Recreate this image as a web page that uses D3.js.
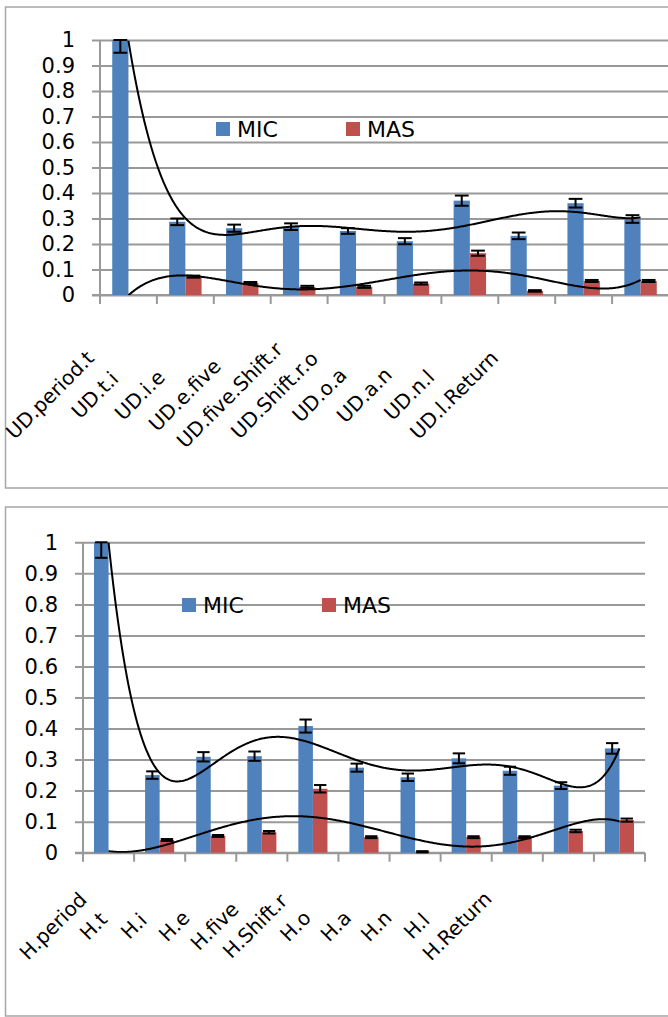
<!DOCTYPE html>
<html>
<head>
<meta charset="utf-8">
<script src="https://cdn.jsdelivr.net/npm/d3@7"></script>
<style>
  body { margin: 0; background: #fff; }
  svg { display: block; }
  text { font-family: "DejaVu Sans", sans-serif; fill: #000; }
</style>
</head>
<body>
<svg id="chart" width="668" height="1017"></svg>
<script>
// ---- data ----
const seriesNames = ["MIC", "MAS"];
const seriesColors = ["#4F81BD", "#C0504D"];
const yTickValues = [0, 0.1, 0.2, 0.3, 0.4, 0.5, 0.6, 0.7, 0.8, 0.9, 1];
const yTickLabels = ["0", "0.1", "0.2", "0.3", "0.4", "0.5", "0.6", "0.7", "0.8", "0.9", "1"];

const udCategories = ["UD.period.t", "UD.t.i", "UD.i.e", "UD.e.five", "UD.five.Shift.r",
  "UD.Shift.r.o", "UD.o.a", "UD.a.n", "UD.n.l", "UD.l.Return"];
const udMic    = [1.0, 0.287, 0.262, 0.268, 0.251, 0.211, 0.37, 0.232, 0.36, 0.298];
const udMicErr = [0.05, 0.013, 0.014, 0.013, 0.011, 0.012, 0.02, 0.013, 0.017, 0.015];
const udMas    = [0, 0.072, 0.047, 0.032, 0.032, 0.045, 0.164, 0.016, 0.055, 0.055];
const udMasErr = [0, 0.004, 0.004, 0.004, 0.004, 0.004, 0.01, 0.003, 0.004, 0.004];

const hCategories = ["H.period", "H.t", "H.i", "H.e", "H.five", "H.Shift.r",
  "H.o", "H.a", "H.n", "H.l", "H.Return"];
const hMic    = [1.0, 0.25, 0.309, 0.311, 0.408, 0.274, 0.243, 0.304, 0.264, 0.216, 0.336];
const hMicErr = [0.05, 0.012, 0.015, 0.015, 0.021, 0.013, 0.012, 0.016, 0.013, 0.011, 0.017];
const hMas    = [0, 0.041, 0.054, 0.066, 0.206, 0.05, 0.003, 0.05, 0.05, 0.07, 0.105];
const hMasErr = [0, 0.003, 0.003, 0.004, 0.012, 0.003, 0.002, 0.003, 0.003, 0.004, 0.005];

const trendOrder = 6;

// least squares polynomial, like the spreadsheet trendline
function polyfit(xs, ys, deg) {
  const m = d3.mean(xs), s = (d3.max(xs) - d3.min(xs)) / 2;
  const t = xs.map(x => (x - m) / s);
  const n = deg + 1;
  const A = d3.range(n).map(() => new Array(n + 1).fill(0));
  t.forEach((tv, k) => {
    for (let i = 0; i < n; i++) {
      for (let j = 0; j < n; j++) A[i][j] += Math.pow(tv, i + j);
      A[i][n] += ys[k] * Math.pow(tv, i);
    }
  });
  for (let c = 0; c < n; c++) {
    let p = c;
    for (let r = c + 1; r < n; r++) if (Math.abs(A[r][c]) > Math.abs(A[p][c])) p = r;
    [A[c], A[p]] = [A[p], A[c]];
    for (let r = 0; r < n; r++) {
      if (r === c) continue;
      const f = A[r][c] / A[c][c];
      for (let j = c; j <= n; j++) A[r][j] -= f * A[c][j];
    }
  }
  const coef = A.map((row, i) => row[n] / row[i]);
  return x => {
    const tv = (x - m) / s;
    return coef.reduce((acc, c, i) => acc + c * Math.pow(tv, i), 0);
  };
}

const svg = d3.select("#chart");

function drawChart(o) {
  const g = svg.append("g");
  const n = o.cats.length;

  g.append("rect")
    .attr("x", o.box[0]).attr("y", o.box[1])
    .attr("width", o.box[2]).attr("height", o.box[3])
    .attr("fill", "none").attr("stroke", "#a6a6a6").attr("stroke-width", 1.5);

  const x0 = d3.scaleBand().domain(o.cats).range([o.left, o.right]);
  const bw = x0.bandwidth();
  const x1 = d3.scaleBand().domain(seriesNames).range([bw * 0.215, bw * 0.785]);
  const xc = d3.scaleLinear().domain([0.5, n + 0.5]).range([o.left, o.right]);
  const y = d3.scaleLinear().domain([0, 1]).range([o.bottom, o.top]);

  // gridlines + y labels
  const yAxis = d3.axisLeft(y)
    .tickValues(yTickValues)
    .tickFormat((d, i) => yTickLabels[i])
    .tickSizeInner(-(o.right - o.left + 8))
    .tickSizeOuter(0)
    .tickPadding(17);
  const ya = g.append("g")
    .attr("transform", `translate(${o.left - 8},0)`)
    .call(yAxis);
  ya.select(".domain").remove();
  ya.selectAll("line").attr("stroke", "#999").attr("stroke-width", 2);
  ya.selectAll("text").attr("font-size", 21).attr("font-family", "DejaVu Sans").attr("fill", "#000");

  // axes lines
  g.append("line")
    .attr("x1", o.left).attr("x2", o.left)
    .attr("y1", y(1)).attr("y2", y(0))
    .attr("stroke", "#999").attr("stroke-width", 2);
  g.append("line")
    .attr("x1", o.left - 8).attr("x2", o.right)
    .attr("y1", y(0)).attr("y2", y(0))
    .attr("stroke", "#999").attr("stroke-width", 2);
  g.append("g").selectAll("line")
    .data(d3.range(n + 1))
    .enter().append("line")
    .attr("x1", i => xc(i + 0.5)).attr("x2", i => xc(i + 0.5))
    .attr("y1", y(0)).attr("y2", y(0) + 9)
    .attr("stroke", "#999").attr("stroke-width", 2);

  // bars
  const rows = [];
  o.cats.forEach((c, i) => {
    o.values.forEach((vals, s) => {
      rows.push({ cat: c, s: seriesNames[s], color: seriesColors[s], v: vals[i], e: o.errors[s][i] });
    });
  });
  g.append("g").selectAll("rect")
    .data(rows)
    .enter().append("rect")
    .attr("x", d => x0(d.cat) + x1(d.s))
    .attr("y", d => y(d.v))
    .attr("width", x1.bandwidth())
    .attr("height", d => y(0) - y(d.v))
    .attr("fill", d => d.color);

  // error bars
  const cap = x1.bandwidth() * 0.85;
  const eb = g.append("g").selectAll("g")
    .data(rows.filter(d => d.e > 0))
    .enter().append("g")
    .attr("transform", d => `translate(${x0(d.cat) + x1(d.s) + x1.bandwidth() / 2},0)`)
    .attr("stroke", "#000").attr("stroke-width", 2);
  eb.append("line")
    .attr("y1", d => y(Math.min(1, d.v + d.e))).attr("y2", d => y(Math.max(0, d.v - d.e)));
  eb.append("line")
    .attr("x1", -cap / 2).attr("x2", cap / 2)
    .attr("y1", d => y(Math.min(1, d.v + d.e))).attr("y2", d => y(Math.min(1, d.v + d.e)));
  eb.append("line")
    .attr("x1", -cap / 2).attr("x2", cap / 2)
    .attr("y1", d => y(Math.max(0, d.v - d.e))).attr("y2", d => y(Math.max(0, d.v - d.e)));

  // trendlines
  const clipId = "clip" + o.id;
  g.append("clipPath").attr("id", clipId)
    .append("rect")
    .attr("x", o.left).attr("y", o.top)
    .attr("width", o.right - o.left).attr("height", o.bottom - o.top);
  const idx = d3.range(1, n + 1);
  const line = d3.line().x(d => xc(d[0])).y(d => y(d[1]));
  o.values.forEach(vals => {
    const f = polyfit(idx, vals, trendOrder);
    const pts = d3.range(1, n + 0.001, 0.02).map(t => [t, f(t)]);
    g.append("path")
      .attr("clip-path", `url(#${clipId})`)
      .attr("d", line(pts))
      .attr("fill", "none").attr("stroke", "#000").attr("stroke-width", 2);
  });

  // category labels at -45 degrees
  const lx = d3.scalePoint().domain(o.cats).range(o.labelRange);
  g.append("g").selectAll("text")
    .data(o.cats)
    .enter().append("text")
    .attr("transform", d => `translate(${lx(d)},${o.labelY}) rotate(-45)`)
    .attr("text-anchor", "middle")
    .attr("dy", "0.35em")
    .attr("font-size", 20)
    .text(d => d);

  // legend
  const lg = g.append("g").selectAll("g")
    .data(seriesNames)
    .enter().append("g")
    .attr("transform", (d, i) => `translate(${o.legendX[i]},${o.legendY})`);
  lg.append("rect")
    .attr("x", 0).attr("y", -7).attr("width", 14).attr("height", 14)
    .attr("fill", (d, i) => seriesColors[i]);
  lg.append("text")
    .attr("x", 21).attr("dy", "0.36em")
    .attr("font-size", 22)
    .text(d => d);
}

drawChart({
  id: "ud", cats: udCategories,
  values: [udMic, udMas], errors: [udMicErr, udMasErr],
  box: [5.5, 7, 720, 481],
  left: 100, right: 669, top: 40, bottom: 295,
  labelRange: [50, 454], labelY: 395,
  legendX: [216, 346], legendY: 129
});

drawChart({
  id: "h", cats: hCategories,
  values: [hMic, hMas], errors: [hMicErr, hMasErr],
  box: [5.5, 507, 720, 509],
  left: 83, right: 645, top: 542.3, bottom: 852.7,
  labelRange: [53, 457], labelY: 926,
  legendX: [182, 322], legendY: 605
});
</script>
</body>
</html>
